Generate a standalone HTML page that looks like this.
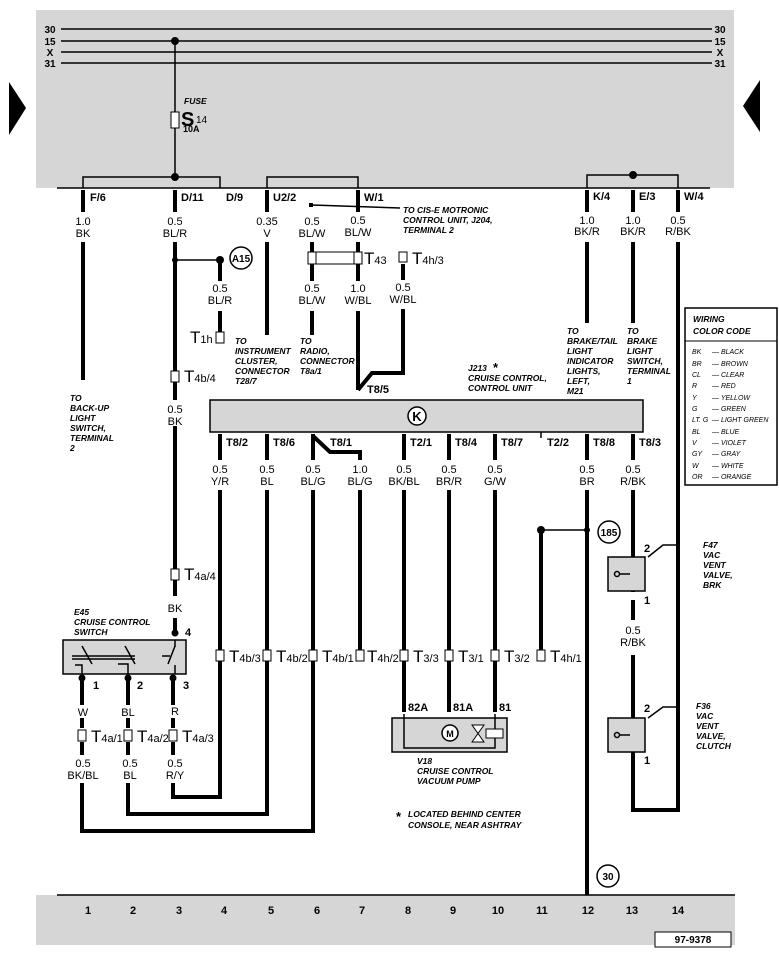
<!DOCTYPE html>
<html><head><meta charset="utf-8"><style>
body{margin:0;background:#fff}
svg{display:block;font-family:"Liberation Sans",sans-serif}
.n{font-size:11px;text-anchor:middle}
.p{font-size:11px;font-weight:bold}
.i{font-size:8.5px;font-weight:bold;font-style:italic}
.c{font-size:7px;font-style:italic}
.w{stroke:#000;stroke-width:4;fill:none}
.t{stroke:#000;stroke-width:1.5;fill:none}
.T{font-size:17px}
.s{font-size:11px}
</style></head><body>
<svg width="779" height="959" viewBox="0 0 779 959">
<rect x="36" y="10" width="698" height="178" fill="#d6d6d6"/>
<rect x="36" y="895" width="699" height="50" fill="#d6d6d6"/>
<polygon points="9,82 26,108 9,135" fill="#000"/>
<polygon points="760,80 743,106 760,132" fill="#000"/>
<g class="t">
<line x1="61" y1="29" x2="712" y2="29"/><line x1="61" y1="41" x2="712" y2="41"/>
<line x1="61" y1="52" x2="712" y2="52"/><line x1="61" y1="63" x2="712" y2="63"/>
<line x1="57" y1="188" x2="710" y2="188"/><line x1="57" y1="895" x2="735" y2="895"/>
<line x1="175" y1="41" x2="175" y2="177"/>
<polyline points="83,188 83,177 220,177 220,188"/>
<polyline points="267,188 267,177 358,177 358,188"/>
<polyline points="587,188 587,175 678,175 678,188"/>
<line x1="312" y1="205" x2="400" y2="208"/>
<line x1="175" y1="260" x2="220" y2="260"/>
<line x1="541" y1="530" x2="587" y2="530"/>
</g>
<rect x="171" y="112" width="8" height="16" fill="#fff" stroke="#000"/>
<g fill="#000"><circle cx="175" cy="41" r="4"/><circle cx="175" cy="177" r="4"/><circle cx="633" cy="175" r="4"/>
<circle cx="175" cy="260" r="3"/><circle cx="220" cy="260" r="4"/><circle cx="541" cy="530" r="4"/><circle cx="587" cy="530" r="3"/>
<rect x="309" y="203" width="4" height="4"/></g>
<g font-size="10" font-weight="bold" text-anchor="middle">
<text x="50" y="33">30</text><text x="50" y="45">15</text><text x="50" y="56">X</text><text x="50" y="67">31</text>
<text x="720" y="33">30</text><text x="720" y="45">15</text><text x="720" y="56">X</text><text x="720" y="67">31</text></g>
<text x="184" y="104" class="i">FUSE</text>
<text x="181" y="126" font-size="20" font-weight="bold">S</text><text x="196" y="123" font-size="10">14</text>
<text x="183" y="132" font-size="9" font-weight="bold">10A</text>
<g class="p"><text x="90" y="201">F/6</text><text x="181" y="201">D/11</text><text x="226" y="201">D/9</text><text x="273" y="201">U2/2</text><text x="364" y="201">W/1</text><text x="593" y="200">K/4</text><text x="639" y="200">E/3</text><text x="684" y="200">W/4</text></g>
<g class="w">
<line x1="83" y1="190" x2="83" y2="212"/><line x1="83" y1="242" x2="83" y2="380"/>
<line x1="175" y1="190" x2="175" y2="212"/><line x1="175" y1="242" x2="175" y2="630"/>
<line x1="220" y1="262" x2="220" y2="281"/><line x1="220" y1="311" x2="220" y2="332"/>
<line x1="267" y1="190" x2="267" y2="212"/><line x1="267" y1="242" x2="267" y2="335"/>
<line x1="312" y1="242" x2="312" y2="281"/><line x1="312" y1="311" x2="312" y2="335"/>
<line x1="358" y1="190" x2="358" y2="212"/><line x1="358" y1="242" x2="358" y2="281"/>
<polyline points="358,311 358,378 358,390"/>
<polyline points="403,264 403,280"/><polyline points="403,309 403,373 372,373 358,390"/>
<line x1="587" y1="190" x2="587" y2="212"/><line x1="587" y1="242" x2="587" y2="323"/>
<line x1="633" y1="190" x2="633" y2="212"/><line x1="633" y1="242" x2="633" y2="323"/>
<line x1="678" y1="190" x2="678" y2="212"/><polyline points="678,242 678,810 633,810 633,758"/>
<line x1="220" y1="434" x2="220" y2="460"/><polyline points="220,490 220,797 173,797 173,783"/>
<line x1="267" y1="434" x2="267" y2="460"/><polyline points="267,490 267,814 128,814 128,783"/>
<polyline points="313,436 330,452 360,452 360,460"/><line x1="313" y1="434" x2="313" y2="460"/><polyline points="313,490 313,831 82,831 82,783"/>
<line x1="360" y1="490" x2="360" y2="650"/>
<line x1="404" y1="434" x2="404" y2="460"/><line x1="404" y1="490" x2="404" y2="712"/>
<line x1="449" y1="434" x2="449" y2="460"/><line x1="449" y1="490" x2="449" y2="712"/>
<line x1="495" y1="434" x2="495" y2="460"/><line x1="495" y1="490" x2="495" y2="712"/>
<line x1="541" y1="530" x2="541" y2="650"/>
<line x1="587" y1="434" x2="587" y2="460"/><line x1="587" y1="490" x2="587" y2="895"/>
<line x1="633" y1="434" x2="633" y2="460"/><line x1="633" y1="490" x2="633" y2="592"/><line x1="633" y1="600" x2="633" y2="620"/><line x1="633" y1="655" x2="633" y2="722"/>
<line x1="82" y1="676" x2="82" y2="705"/><line x1="82" y1="742" x2="82" y2="755"/>
<line x1="128" y1="676" x2="128" y2="705"/><line x1="128" y1="742" x2="128" y2="755"/>
<line x1="173" y1="676" x2="173" y2="705"/><line x1="173" y1="742" x2="173" y2="755"/>
<line x1="82" y1="718" x2="82" y2="728"/><line x1="128" y1="718" x2="128" y2="728"/><line x1="173" y1="718" x2="173" y2="728"/>
</g>
<g fill="#fff"><rect x="170" y="400" width="10" height="26"/><rect x="170" y="596" width="10" height="22"/></g>
<g class="n">
<text x="83" y="225">1.0</text><text x="83" y="237">BK</text>
<text x="175" y="225">0.5</text><text x="175" y="237">BL/R</text>
<text x="267" y="225">0.35</text><text x="267" y="237">V</text>
<text x="312" y="225">0.5</text><text x="312" y="237">BL/W</text>
<text x="358" y="224">0.5</text><text x="358" y="236">BL/W</text>
<text x="220" y="292">0.5</text><text x="220" y="304">BL/R</text>
<text x="312" y="292">0.5</text><text x="312" y="304">BL/W</text>
<text x="358" y="292">1.0</text><text x="358" y="304">W/BL</text>
<text x="403" y="291">0.5</text><text x="403" y="303">W/BL</text>
<text x="587" y="224">1.0</text><text x="587" y="235">BK/R</text>
<text x="633" y="224">1.0</text><text x="633" y="235">BK/R</text>
<text x="678" y="224">0.5</text><text x="678" y="235">R/BK</text>
<text x="175" y="413">0.5</text><text x="175" y="425">BK</text>
<text x="175" y="612">BK</text>
<text x="220" y="473">0.5</text><text x="220" y="485">Y/R</text>
<text x="267" y="473">0.5</text><text x="267" y="485">BL</text>
<text x="313" y="473">0.5</text><text x="313" y="485">BL/G</text>
<text x="360" y="473">1.0</text><text x="360" y="485">BL/G</text>
<text x="404" y="473">0.5</text><text x="404" y="485">BK/BL</text>
<text x="449" y="473">0.5</text><text x="449" y="485">BR/R</text>
<text x="495" y="473">0.5</text><text x="495" y="485">G/W</text>
<text x="587" y="473">0.5</text><text x="587" y="485">BR</text>
<text x="633" y="473">0.5</text><text x="633" y="485">R/BK</text>
<text x="633" y="634">0.5</text><text x="633" y="646">R/BK</text>
<text x="83" y="716">W</text><text x="128" y="716">BL</text><text x="175" y="715">R</text>
<text x="83" y="767">0.5</text><text x="83" y="779">BK/BL</text>
<text x="130" y="767">0.5</text><text x="130" y="779">BL</text>
<text x="175" y="767">0.5</text><text x="175" y="779">R/Y</text>
</g>
<g font-size="11" font-weight="bold" text-anchor="middle">
<text x="88" y="914">1</text><text x="133" y="914">2</text><text x="179" y="914">3</text><text x="224" y="914">4</text><text x="271" y="914">5</text><text x="317" y="914">6</text><text x="362" y="914">7</text><text x="408" y="914">8</text><text x="453" y="914">9</text><text x="498" y="914">10</text><text x="542" y="914">11</text><text x="588" y="914">12</text><text x="632" y="914">13</text><text x="678" y="914">14</text></g>
<rect x="655" y="932" width="76" height="15" fill="#fff" stroke="#000"/>
<text x="693" y="943" font-size="10" font-weight="bold" text-anchor="middle">97-9378</text>
<!-- control unit -->
<rect x="210" y="400" width="433" height="32" fill="#d6d6d6" stroke="#000" stroke-width="1.5"/>
<line x1="541" y1="432" x2="541" y2="438" stroke="#000" stroke-width="1.5"/>
<g fill="#fff" stroke="#000" stroke-width="1.5"><circle cx="241" cy="258" r="11"/><circle cx="609" cy="532" r="11"/><circle cx="608" cy="876" r="11"/><circle cx="417" cy="416" r="9"/></g>
<g font-size="10" font-weight="bold" text-anchor="middle"><text x="241" y="262">A15</text><text x="609" y="536">185</text><text x="608" y="880">30</text><text x="417" y="421" font-size="13">K</text></g>
<g class="p"><text x="226" y="446">T8/2</text><text x="273" y="446">T8/6</text><text x="330" y="446">T8/1</text><text x="410" y="446">T2/1</text><text x="455" y="446">T8/4</text><text x="501" y="446">T8/7</text><text x="547" y="446">T2/2</text><text x="593" y="446">T8/8</text><text x="639" y="446">T8/3</text><text x="367" y="393">T8/5</text>
<text x="408" y="711">82A</text><text x="453" y="711">81A</text><text x="499" y="711">81</text>
<text x="185" y="636">4</text><text x="93" y="689">1</text><text x="137" y="689">2</text><text x="183" y="689">3</text>
<text x="644" y="552">2</text><text x="644" y="604">1</text><text x="644" y="712">2</text><text x="644" y="764">1</text></g>
<!-- connectors -->
<g fill="#fff" stroke="#000" stroke-width="1">
<rect x="308" y="252" width="54" height="12"/>
<rect x="308" y="252" width="8" height="12"/><rect x="354" y="252" width="8" height="12"/>
<rect x="399" y="252" width="8" height="10"/>
<rect x="216" y="332" width="8" height="11"/>
<rect x="171" y="371" width="8" height="11"/><rect x="171" y="569" width="8" height="11"/>
<rect x="216" y="650" width="8" height="11"/><rect x="263" y="650" width="8" height="11"/><rect x="309" y="650" width="8" height="11"/><rect x="356" y="650" width="8" height="11"/>
<rect x="400" y="650" width="8" height="11"/><rect x="445" y="650" width="8" height="11"/><rect x="491" y="650" width="8" height="11"/><rect x="537" y="650" width="8" height="11"/>
<rect x="78" y="730" width="8" height="11"/><rect x="124" y="730" width="8" height="11"/><rect x="169" y="730" width="8" height="11"/>
</g>
<g class="T"><text x="364" y="264">T<tspan class="s">43</tspan></text><text x="412" y="264">T<tspan class="s">4h/3</tspan></text>
<text x="190" y="343">T<tspan class="s">1h</tspan></text>
<text x="184" y="382">T<tspan class="s">4b/4</tspan></text><text x="184" y="580">T<tspan class="s">4a/4</tspan></text>
<text x="229" y="662">T<tspan class="s">4b/3</tspan></text><text x="276" y="662">T<tspan class="s">4b/2</tspan></text><text x="322" y="662">T<tspan class="s">4b/1</tspan></text><text x="367" y="662">T<tspan class="s">4h/2</tspan></text>
<text x="413" y="662">T<tspan class="s">3/3</tspan></text><text x="458" y="662">T<tspan class="s">3/1</tspan></text><text x="504" y="662">T<tspan class="s">3/2</tspan></text><text x="550" y="662">T<tspan class="s">4h/1</tspan></text>
<text x="91" y="742">T<tspan class="s">4a/1</tspan></text><text x="137" y="742">T<tspan class="s">4a/2</tspan></text><text x="182" y="742">T<tspan class="s">4a/3</tspan></text></g>
<!-- E45 switch -->
<rect x="63" y="640" width="123" height="34" fill="#d6d6d6" stroke="#000" stroke-width="1.5"/>
<g class="t" stroke-width="1.2"><line x1="72" y1="656" x2="135" y2="656"/><line x1="72" y1="659" x2="135" y2="659"/><line x1="82" y1="646" x2="92" y2="664"/><line x1="125" y1="646" x2="135" y2="664"/><line x1="162" y1="656" x2="170" y2="656"/><line x1="175" y1="646" x2="168" y2="664"/><line x1="175" y1="640" x2="175" y2="647"/><line x1="175" y1="665" x2="175" y2="674"/><polyline points="75,665 82,665 82,674"/><polyline points="118,664 128,664 128,674"/></g>
<g fill="#000"><circle cx="175" cy="633" r="3.5"/><circle cx="82" cy="678" r="3.5"/><circle cx="128" cy="678" r="3.5"/><circle cx="173" cy="678" r="3.5"/></g>
<text x="74" y="615" class="i">E45</text><text x="74" y="625" class="i">CRUISE CONTROL</text><text x="74" y="635" class="i">SWITCH</text>
<!-- V18 -->
<rect x="392" y="718" width="115" height="34" fill="#d6d6d6" stroke="#000" stroke-width="1.5"/>
<polyline points="404,714 404,748 495,748 495,714" class="t" stroke-width="1"/>
<circle cx="450" cy="733" r="8" fill="#fff" stroke="#000" stroke-width="1.5"/><text x="450" y="737" font-size="9" font-weight="bold" text-anchor="middle">M</text>
<rect x="486" y="729" width="17" height="9" fill="#fff" stroke="#000"/>
<polygon points="472,725 484,725 472,742 484,742" fill="#fff" stroke="#000"/>
<text x="417" y="764" class="i">V18</text><text x="417" y="774" class="i">CRUISE CONTROL</text><text x="417" y="784" class="i">VACUUM PUMP</text>
<!-- F47 F36 -->
<rect x="608" y="557" width="37" height="34" fill="#d6d6d6" stroke="#000" stroke-width="1.5"/>
<rect x="608" y="718" width="37" height="34" fill="#d6d6d6" stroke="#000" stroke-width="1.5"/>
<g class="t" stroke-width="1"><circle cx="617" cy="574" r="2.5"/><line x1="620" y1="574" x2="630" y2="574"/><circle cx="617" cy="735" r="2.5"/><line x1="620" y1="735" x2="630" y2="735"/>
<polyline points="648,557 663,545 680,545"/><polyline points="648,718 663,707 680,707"/></g>
<g fill="#000"><rect x="631" y="752" width="4" height="6"/></g>
<g class="i"><text x="703" y="548">F47</text><text x="703" y="558">VAC</text><text x="703" y="568">VENT</text><text x="703" y="578">VALVE,</text><text x="703" y="588">BRK</text>
<text x="696" y="709">F36</text><text x="696" y="719">VAC</text><text x="696" y="729">VENT</text><text x="696" y="739">VALVE,</text><text x="696" y="749">CLUTCH</text>
<text x="70" y="401">TO</text><text x="70" y="411">BACK-UP</text><text x="70" y="421">LIGHT</text><text x="70" y="431">SWITCH,</text><text x="70" y="441">TERMINAL</text><text x="70" y="451">2</text>
<text x="235" y="344">TO</text><text x="235" y="354">INSTRUMENT</text><text x="235" y="364">CLUSTER,</text><text x="235" y="374">CONNECTOR</text><text x="235" y="384">T28/7</text>
<text x="300" y="344">TO</text><text x="300" y="354">RADIO,</text><text x="300" y="364">CONNECTOR</text><text x="300" y="374">T8a/1</text>
<text x="403" y="213">TO CIS-E MOTRONIC</text><text x="403" y="223">CONTROL UNIT, J204,</text><text x="403" y="233">TERMINAL 2</text>
<text x="468" y="371">J213</text><text x="468" y="381">CRUISE CONTROL,</text><text x="468" y="391">CONTROL UNIT</text>
<text x="567" y="334">TO</text><text x="567" y="344">BRAKE/TAIL</text><text x="567" y="354">LIGHT</text><text x="567" y="364">INDICATOR</text><text x="567" y="374">LIGHTS,</text><text x="567" y="384">LEFT,</text><text x="567" y="394">M21</text>
<text x="627" y="334">TO</text><text x="627" y="344">BRAKE</text><text x="627" y="354">LIGHT</text><text x="627" y="364">SWITCH,</text><text x="627" y="374">TERMINAL</text><text x="627" y="384">1</text>
<text x="408" y="817">LOCATED BEHIND CENTER</text><text x="408" y="828">CONSOLE, NEAR ASHTRAY</text></g>
<text x="493" y="372" font-size="13" font-weight="bold">*</text><text x="396" y="821" font-size="13" font-weight="bold">*</text>
<!-- color code -->
<rect x="685" y="308" width="92" height="177" fill="#fff" stroke="#000" stroke-width="1.5"/>
<line x1="685" y1="341" x2="777" y2="341" stroke="#000"/>
<text x="693" y="322" class="i">WIRING</text><text x="693" y="334" class="i" font-size="9.5">COLOR CODE</text>
<g class="c"><text x="692" y="354">BK</text><text x="712" y="354">— BLACK</text>
<text x="692" y="366">BR</text><text x="712" y="366">— BROWN</text>
<text x="692" y="377">CL</text><text x="712" y="377">— CLEAR</text>
<text x="692" y="388">R</text><text x="712" y="388">— RED</text>
<text x="692" y="400">Y</text><text x="712" y="400">— YELLOW</text>
<text x="692" y="411">G</text><text x="712" y="411">— GREEN</text>
<text x="692" y="422">LT. G</text><text x="712" y="422">— LIGHT GREEN</text>
<text x="692" y="434">BL</text><text x="712" y="434">— BLUE</text>
<text x="692" y="445">V</text><text x="712" y="445">— VIOLET</text>
<text x="692" y="456">GY</text><text x="712" y="456">— GRAY</text>
<text x="692" y="468">W</text><text x="712" y="468">— WHITE</text>
<text x="692" y="479">OR</text><text x="712" y="479">— ORANGE</text></g>
</svg>
</body></html>
